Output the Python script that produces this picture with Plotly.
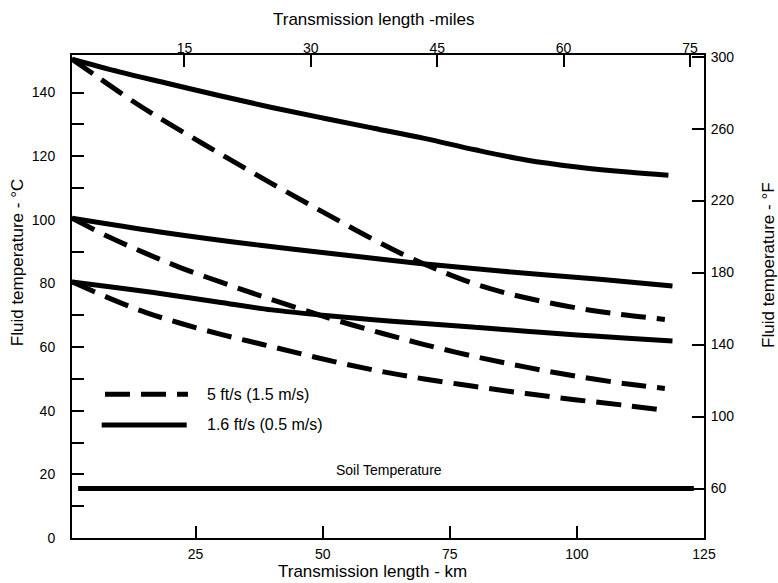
import plotly.graph_objects as go

# ---------------- data ----------------
# Solid curves: 1.6 ft/s (0.5 m/s)
s150_km = [0.7, 10, 20, 30, 40, 50, 60, 70, 80, 90, 100, 110, 118]
s150_c = [150.5, 146.5, 142.7, 138.9, 135.3, 132.0, 128.8, 125.6, 122.0, 118.8, 116.6, 115.0, 114.0]

s100_km = [0.7, 18, 37.7, 57.3, 69.1, 84.9, 104.5, 118.8]
s100_c = [100.5, 96.2, 92.0, 88.4, 86.3, 83.9, 81.3, 79.2]

s80_km = [0.7, 10, 20, 30, 40, 50, 60, 70, 80, 90, 100, 110, 118.8]
s80_c = [80.5, 78.6, 76.4, 74.0, 71.7, 70.0, 68.6, 67.4, 66.2, 65.0, 63.8, 62.8, 61.9]

# Dashed curves: 5 ft/s (1.5 m/s)
d150_km = [0.7, 6, 13.5, 20, 30, 40, 50, 60, 67, 74, 80, 87, 95, 103, 110, 117.3]
d150_c = [150.5, 144.6, 136.4, 130.0, 120.6, 111.4, 102.5, 93.8, 88.2, 83.4, 79.8, 76.6, 73.8, 71.5, 70.0, 68.7]

d100_km = [0.7, 8, 15, 22, 30, 38, 46, 54, 62, 70, 80, 90, 100, 110, 117.3]
d100_c = [100.5, 94.6, 89.6, 85.0, 80.4, 76.0, 71.8, 67.8, 64.2, 60.8, 57.0, 53.7, 50.8, 48.4, 47.0]

d80_km = [0.7, 8, 15, 22, 30, 38, 46, 54, 62, 70, 80, 90, 100, 110, 117.3]
d80_c = [80.5, 75.4, 71.0, 67.5, 64.0, 60.9, 57.8, 54.8, 52.2, 50.0, 47.6, 45.4, 43.4, 41.6, 40.1]

# Soil temperature line (deg F)
soil_km = [1.9, 123]
soil_f = [60, 60]

# Axis ticks
km_ticks = [25, 50, 75, 100, 125]
mile_ticks = [15, 30, 45, 60, 75]
c_ticks = [0, 20, 40, 60, 80, 100, 120, 140]
c_minor = [10, 30, 50, 70, 90, 110, 130]
f_ticks = [60, 100, 140, 180, 220, 260, 300]

legend_labels = ["5 ft/s (1.5 m/s)", "1.6 ft/s (0.5 m/s)"]

# ---------------- figure ----------------
FONT = "Liberation Sans, Arial, sans-serif"
LW = 5
DASH = "25px,11px"

fig = go.Figure()
for xs, ys in [(s150_km, s150_c), (s100_km, s100_c), (s80_km, s80_c)]:
    fig.add_trace(go.Scatter(x=xs, y=ys, mode="lines", line=dict(color="black", width=LW, shape="spline", smoothing=1),
                             hoverinfo="skip", showlegend=False))
for xs, ys in [(d150_km, d150_c), (d100_km, d100_c), (d80_km, d80_c)]:
    fig.add_trace(go.Scatter(x=xs, y=ys, mode="lines", line=dict(color="black", width=LW, dash=DASH, shape="spline", smoothing=1),
                             hoverinfo="skip", showlegend=False))
fig.add_trace(go.Scatter(x=soil_km, y=soil_f, mode="lines", line=dict(color="black", width=LW),
                         xaxis="x", yaxis="y2", hoverinfo="skip", showlegend=False))
# register the top (miles) axis
fig.add_trace(go.Scatter(x=mile_ticks[:2], y=[None, None], mode="lines", xaxis="x2", yaxis="y",
                         hoverinfo="skip", showlegend=False))

axis_common = dict(showline=True, linewidth=2, linecolor="black", showgrid=False, zeroline=False,
                   ticks="inside", ticklen=12, tickwidth=1.5, tickcolor="black",
                   tickfont=dict(family=FONT, size=14, color="black"))

fig.update_layout(
    width=778, height=583,
    margin=dict(l=72, r=74, t=55, b=45),
    plot_bgcolor="white", paper_bgcolor="white",
    showlegend=False,
    font=dict(family=FONT, color="black", size=14),
    xaxis=dict(range=[0.7, 125], tickvals=km_ticks, ticklabelstandoff=2, **axis_common),
    xaxis2=dict(range=[1.66, 76.66], tickvals=mile_ticks, overlaying="x", side="top",
                ticklabelstandoff=-6, **axis_common),
    yaxis=dict(range=[0, 151.8], tickvals=c_ticks, ticklabelstandoff=12,
               minor=dict(tickvals=c_minor, ticks="inside", ticklen=12, tickwidth=1.5, tickcolor="black"),
               **axis_common),
    yaxis2=dict(range=[32.5, 300.9], tickvals=f_ticks, overlaying="y", side="right",
                ticklabelstandoff=2, **axis_common),
)

TF = dict(family=FONT, size=17, color="black")
ann = [
    dict(text="Transmission length - km", x=0.4755, y=-0.0698, font=TF),
    dict(text="Transmission length -miles", x=0.478, y=1.0725, font=TF),
    dict(text="Fluid temperature - °C", x=-0.087, y=0.569, textangle=-90, font=TF),
    dict(text="Fluid temperature - °F", x=1.101, y=0.565, textangle=-90, font=TF),
    dict(text="Soil Temperature", x=0.5016, y=0.1408, font=dict(family=FONT, size=14, color="black")),
]
for a in ann:
    fig.add_annotation(xref="paper", yref="paper", showarrow=False, xanchor="center", yanchor="middle", **a)

# legend drawn as sample lines + text
fig.add_shape(type="line", xref="paper", yref="paper", x0=0.0522, x1=0.1835, y0=0.2975, y1=0.2975,
              line=dict(color="black", width=LW, dash=DASH))
fig.add_shape(type="line", xref="paper", yref="paper", x0=0.047, x1=0.1815, y0=0.234, y1=0.234,
              line=dict(color="black", width=LW))
for lbl, yy in zip(legend_labels, [0.2975, 0.234]):
    fig.add_annotation(xref="paper", yref="paper", x=0.2104, y=yy, text=lbl, showarrow=False,
                       xanchor="left", yanchor="middle", font=dict(family=FONT, size=16, color="black"))

fig.write_html("out.html", config={"displayModeBar": False},
               post_script="document.body.style.margin='0';document.body.style.padding='0';")
